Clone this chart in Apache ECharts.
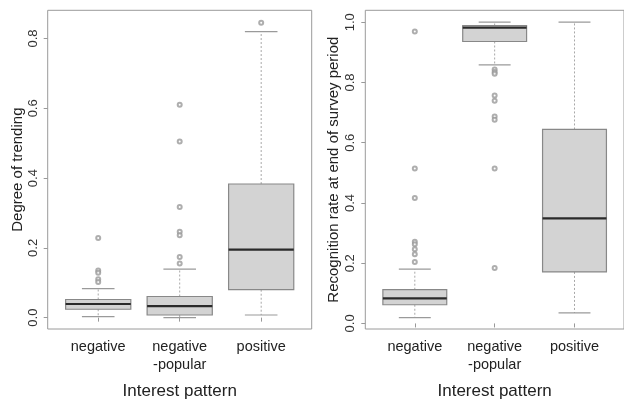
<!DOCTYPE html>
<html>
<head>
<meta charset="utf-8">
<script src="https://cdn.jsdelivr.net/npm/echarts@6/dist/echarts.min.js"></script>
<style>html,body{margin:0;padding:0;background:#fff;}#c{width:624px;height:405px;}</style>
</head>
<body>
<div id="c"></div>
<script>
// Categories
var categories = ['negative', 'negative\n-popular', 'positive'];
// Left panel: Degree of trending  [lowerWhisker, Q1, median, Q3, upperWhisker]
var trendBoxes = [
  [0.003, 0.024, 0.039, 0.052, 0.083],
  [0.000, 0.0075, 0.033, 0.0605, 0.139],
  [0.0075, 0.080, 0.195, 0.383, 0.820]
];
var trendOutliers = [
  [1, 0.228], [1, 0.135], [1, 0.129], [1, 0.110], [1, 0.102],
  [2, 0.610], [2, 0.505], [2, 0.317], [2, 0.246], [2, 0.236], [2, 0.174], [2, 0.155],
  [3, 0.845]
];
// Right panel: Recognition rate at end of survey period
var recogBoxes = [
  [0.019, 0.062, 0.083, 0.112, 0.180],
  [0.858, 0.936, 0.982, 0.989, 1.000],
  [0.035, 0.171, 0.349, 0.644, 1.000]
];
var recogOutliers = [
  [1, 0.969], [1, 0.514], [1, 0.416], [1, 0.271], [1, 0.263], [1, 0.246], [1, 0.230], [1, 0.204],
  [2, 0.843], [2, 0.835], [2, 0.829], [2, 0.757], [2, 0.739], [2, 0.687], [2, 0.676], [2, 0.514], [2, 0.184]
];
var yTicks = [0, 0.2, 0.4, 0.6, 0.8];
var yTicksR = [0, 0.2, 0.4, 0.6, 0.8, 1.0];
var xTicks = [1, 2, 3];

var chart = echarts.init(document.getElementById('c'));
var FONT = '"Liberation Sans", Arial, sans-serif';

function boxRender(params, api) {
  var x = api.value(0);
  var lo = api.value(1), q1 = api.value(2), med = api.value(3), q3 = api.value(4), hi = api.value(5);
  var halfW = 0.4, capW = 0.2;
  var pL = api.coord([x - halfW, q3]);
  var pR = api.coord([x + halfW, q1]);
  var c = api.coord([x, med]);
  var pLo = api.coord([x, lo]), pHi = api.coord([x, hi]);
  var pQ1 = api.coord([x, q1]), pQ3 = api.coord([x, q3]);
  var capL = api.coord([x - capW, lo])[0], capR = api.coord([x + capW, lo])[0];
  var whiskerStyle = { stroke: '#a8a8a8', lineWidth: 1, lineDash: [2, 2] };
  var capStyle = { stroke: '#9a9a9a', lineWidth: 1.2 };
  return {
    type: 'group',
    children: [
      { type: 'line', shape: { x1: c[0], y1: pQ3[1], x2: c[0], y2: pHi[1] }, style: whiskerStyle },
      { type: 'line', shape: { x1: c[0], y1: pQ1[1], x2: c[0], y2: pLo[1] }, style: whiskerStyle },
      { type: 'line', shape: { x1: capL, y1: pHi[1], x2: capR, y2: pHi[1] }, style: capStyle },
      { type: 'line', shape: { x1: capL, y1: pLo[1], x2: capR, y2: pLo[1] }, style: capStyle },
      { type: 'rect', shape: { x: pL[0], y: pL[1], width: pR[0] - pL[0], height: pR[1] - pL[1] },
        style: { fill: '#d3d3d3', stroke: '#888888', lineWidth: 1.2 } },
      { type: 'line', shape: { x1: pL[0], y1: c[1], x2: pR[0], y2: c[1] }, style: { stroke: '#2a2a2a', lineWidth: 2.2 } }
    ]
  };
}

function boxData(boxes) {
  return boxes.map(function (b, i) { return [i + 1].concat(b); });
}

function xAxisCfg(gi) {
  return {
    type: 'value', gridIndex: gi, min: 0.38, max: 3.62,
    splitLine: { show: false },
    axisLine: { show: false },
    axisTick: { show: true, customValues: xTicks, length: 4, lineStyle: { color: '#999' } },
    axisLabel: {
      customValues: xTicks, margin: 9,
      formatter: function (v) { return categories[Math.round(v) - 1]; },
      fontFamily: FONT, fontSize: 14.5, color: '#222', lineHeight: 18
    },
    name: 'Interest pattern', nameLocation: 'middle', nameGap: 54,
    nameTextStyle: { fontFamily: FONT, fontSize: 17, color: '#222' }
  };
}

function yAxisCfg(gi, min, max, ticks, name, gap) {
  return {
    type: 'value', gridIndex: gi, min: min, max: max,
    splitLine: { show: false },
    axisLine: { show: false },
    axisTick: { show: true, customValues: ticks, length: 4, lineStyle: { color: '#999' } },
    axisLabel: {
      customValues: ticks, rotate: 90, margin: 8,
      formatter: function (v) { return v.toFixed(1); },
      fontFamily: FONT, fontSize: 13, color: '#333'
    },
    name: name, nameLocation: 'middle', nameGap: gap,
    nameTextStyle: { fontFamily: FONT, fontSize: 15, color: '#222' }
  };
}

chart.setOption({
  animation: false,
  backgroundColor: '#fff',
  grid: [
    { left: 47.7, top: 10.3, width: 264, height: 327.4, show: true, borderColor: '#9a9a9a', borderWidth: 1, backgroundColor: 'transparent' },
    { left: 365.3, top: 10.3, width: 263.5, height: 327.4, show: true, borderColor: '#9a9a9a', borderWidth: 1, backgroundColor: 'transparent' }
  ],
  xAxis: [xAxisCfg(0), xAxisCfg(1)],
  yAxis: [
    yAxisCfg(0, -0.0326, 0.881, yTicks, 'Degree of trending', 22),
    yAxisCfg(1, -0.0185, 1.0395, yTicksR, 'Recognition rate at end of survey period', 24)
  ],
  series: [
    { type: 'custom', xAxisIndex: 0, yAxisIndex: 0, renderItem: boxRender, data: boxData(trendBoxes), encode: { x: 0, y: [1, 2, 3, 4, 5] }, silent: true },
    { type: 'scatter', xAxisIndex: 0, yAxisIndex: 0, data: trendOutliers, symbol: 'emptyCircle', symbolSize: 4,
      itemStyle: { color: '#9a9a9a', borderWidth: 0.7 }, silent: true },
    { type: 'custom', xAxisIndex: 1, yAxisIndex: 1, renderItem: boxRender, data: boxData(recogBoxes), encode: { x: 0, y: [1, 2, 3, 4, 5] }, silent: true },
    { type: 'scatter', xAxisIndex: 1, yAxisIndex: 1, data: recogOutliers, symbol: 'emptyCircle', symbolSize: 4,
      itemStyle: { color: '#9a9a9a', borderWidth: 0.7 }, silent: true }
  ]
});
</script>
</body>
</html>
